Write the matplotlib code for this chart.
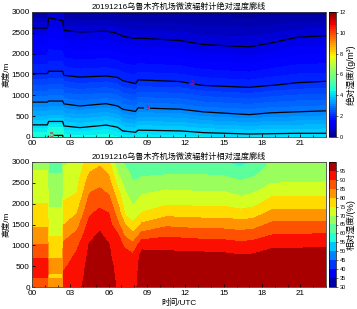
import numpy as np
import matplotlib
matplotlib.use('Agg')
import matplotlib.pyplot as plt
from matplotlib.ticker import MultipleLocator

plt.rcParams['font.family'] = ['Liberation Sans', 'Noto Sans CJK SC', 'DejaVu Sans']
plt.rcParams['axes.unicode_minus'] = False

# ---------------- absolute humidity (g/m^3) ----------------
ah_heights = [0, 100, 250, 500, 750, 1000, 1250, 1500, 1750, 2000, 2250, 2500, 2750, 3000]
ah_times = [0, 1.2, 1.3, 2.4, 2.5, 3.75, 5.8, 6.7, 7.1, 8.1, 8.3, 11.6, 13.4, 17, 18.6, 20.7, 23]
ah_t00 = [4.6, 4.39, 4.08, 3.60, 3.14, 2.74, 2.38, 2.02, 1.79, 1.57, 1.35, 1.15, 0.82, 0.3]
ah_t012 = [4.7, 4.42, 4.08, 3.60, 3.14, 2.74, 2.38, 2.02, 1.79, 1.57, 1.35, 1.15, 0.82, 0.3]
ah_t013 = [5.15, 4.77, 4.35, 3.64, 3.18, 2.78, 2.43, 2.07, 1.85, 1.67, 1.49, 1.30, 1.12, 0.85]
ah_t024 = [5.15, 4.77, 4.35, 3.64, 3.18, 2.78, 2.43, 2.07, 1.84, 1.65, 1.45, 1.25, 1.06, 0.7]
ah_t025 = [4.5, 4.31, 4.03, 3.55, 3.07, 2.68, 2.31, 1.97, 1.74, 1.51, 1.29, 1.08, 0.72, 0.3]
ah_t0375 = [4.45, 4.25, 3.95, 3.47, 2.99, 2.61, 2.24, 1.92, 1.69, 1.46, 1.24, 1.03, 0.67, 0.3]
ah_t058 = [4.5, 4.33, 4.07, 3.58, 3.08, 2.68, 2.30, 1.95, 1.72, 1.50, 1.27, 1.06, 0.69, 0.3]
ah_t067 = [4.4, 4.23, 3.97, 3.48, 2.99, 2.61, 2.23, 1.91, 1.68, 1.44, 1.21, 0.98, 0.65, 0.3]
ah_t071 = [4.3, 4.09, 3.79, 3.29, 2.85, 2.48, 2.11, 1.84, 1.61, 1.38, 1.16, 0.92, 0.61, 0.3]
ah_t081 = [4.25, 4.03, 3.71, 3.19, 2.77, 2.40, 2.03, 1.79, 1.56, 1.34, 1.11, 0.87, 0.59, 0.3]
ah_t083 = [4.3, 4.12, 3.84, 3.36, 2.91, 2.52, 2.14, 1.85, 1.61, 1.36, 1.12, 0.88, 0.59, 0.3]
ah_t116 = [4.25, 4.09, 3.80, 3.30, 2.85, 2.47, 2.09, 1.81, 1.56, 1.31, 1.06, 0.83, 0.56, 0.3]
ah_t134 = [4.2, 4.01, 3.70, 3.18, 2.74, 2.36, 1.98, 1.72, 1.47, 1.21, 0.97, 0.75, 0.52, 0.3]
ah_t170 = [4.15, 3.94, 3.61, 3.06, 2.65, 2.26, 1.92, 1.66, 1.40, 1.15, 0.92, 0.72, 0.50, 0.3]
ah_t186 = [4.15, 3.96, 3.65, 3.13, 2.72, 2.34, 1.98, 1.73, 1.49, 1.24, 1.00, 0.78, 0.53, 0.3]
ah_t207 = [4.15, 3.98, 3.67, 3.17, 2.76, 2.41, 2.05, 1.81, 1.58, 1.36, 1.13, 0.90, 0.60, 0.3]
ah_t230 = [4.15, 3.98, 3.69, 3.21, 2.80, 2.44, 2.09, 1.83, 1.61, 1.39, 1.16, 0.94, 0.62, 0.3]
ah_columns = [ah_t00, ah_t012, ah_t013, ah_t024, ah_t025, ah_t0375, ah_t058, ah_t067,
              ah_t071, ah_t081, ah_t083, ah_t116, ah_t134, ah_t170, ah_t186, ah_t207, ah_t230]

# ---------------- relative humidity (%) ----------------
rh_heights = [0, 250, 500, 750, 1000, 1250, 1500, 1750, 2000, 2250, 2500, 2750, 3000]
rh_times = [0, 1.2, 1.3, 2.4, 2.5, 3.5, 4.5, 5.3, 6.0, 6.75, 7.3, 7.9, 8.6, 10.5, 13, 15, 16.3, 17.3, 18.8, 23]
rh_t00 = [86, 90.5, 92, 89.2, 85.3, 82.1, 79.3, 77.2, 75.1, 73.5, 71.9, 70.3, 68.8]
rh_t012 = [86, 90.5, 92, 89.2, 85.3, 82.1, 79.3, 77.2, 75.1, 73.5, 71.9, 70.3, 68.8]
rh_t013 = [82, 79.5, 81.5, 79.5, 77.1, 74.75, 72.9, 71.1, 69.4, 67.9, 66.4, 64.9, 63.5]
rh_t024 = [82, 79.5, 81.5, 79.5, 77.1, 74.75, 72.9, 71.1, 69.4, 67.9, 66.4, 64.9, 63.5]
rh_t025 = [92, 91, 89.3, 87.6, 85.9, 83.4, 79.9, 77.7, 75.5, 73.8, 72.3, 70.8, 69.3]
rh_t035 = [94, 93, 92, 90.8, 88.9, 86.1, 83.1, 80, 77.5, 75, 73.6, 72.2, 70.8]
rh_t045 = [96.5, 96.5, 96.5, 96, 95.4, 93.7, 91.6, 89.5, 87.2, 85, 82.5, 80, 77.9]
rh_t053 = [97.5, 97.5, 97.3, 97, 96.3, 95.6, 93.8, 91.4, 88.9, 86.3, 83.8, 81.4, 79]
rh_t060 = [96.5, 96.5, 96.3, 95.8, 95.3, 93.4, 91.8, 90.2, 87.5, 84.6, 82, 79.4, 75.7]
rh_t0675 = [94.5, 94, 93.5, 92.3, 91, 90.1, 85.6, 82.6, 79.7, 76.6, 72.6, 69.5, 65.5]
rh_t073 = [93, 92.5, 92, 91.2, 89.4, 83.8, 79.9, 74.3, 72.2, 70.4, 68.3, 66.3, 64.2]
rh_t079 = [93, 92.5, 92, 90.8, 86.4, 81.5, 75.9, 72.3, 69.5, 67.4, 65.3, 63.5, 62]
rh_t086 = [97.5, 97.3, 97, 96.5, 93.8, 86.7, 80.8, 75.5, 72.5, 69.6, 66.5, 64, 62.5]
rh_t105 = [97.5, 97.3, 97, 96.2, 93.7, 89, 83.9, 78.7, 74.3, 71.1, 67.7, 64.2, 61.5]
rh_t130 = [98, 98, 97.5, 96.3, 92.9, 88.1, 83, 78.2, 74, 70.6, 67.4, 64.4, 61]
rh_t150 = [98, 98, 97.3, 96, 92.5, 87.8, 82.9, 78.2, 74, 70.6, 67.4, 63.8, 60.3]
rh_t163 = [98, 98, 97, 95.3, 91.7, 87, 82.3, 77.2, 72.6, 69, 65.9, 61.5, 58.5]
rh_t173 = [98, 98, 97.2, 95.6, 92.1, 87.6, 82.8, 78, 73.6, 70, 66.9, 63.3, 60.3]
rh_t188 = [98, 98, 97.7, 96.8, 94.2, 90, 86.1, 81.75, 77.6, 73.7, 69.9, 67.9, 65.8]
rh_t230 = [98, 98, 97.7, 96.8, 94.5, 90.5, 86.3, 82, 77.8, 74, 70.2, 68, 66]
rh_columns = [rh_t00, rh_t012, rh_t013, rh_t024, rh_t025, rh_t035, rh_t045, rh_t053, rh_t060,
              rh_t0675, rh_t073, rh_t079, rh_t086, rh_t105, rh_t130, rh_t150, rh_t163, rh_t173,
              rh_t188, rh_t230]

xtick_pos = [0, 3, 6, 9, 12, 15, 18, 21]
xtick_labels = ['00', '03', '06', '09', '12', '15', '18', '21']
ah_line_levels = [1, 2, 3, 4, 5]
rh_levels = list(range(30, 101, 5))
title1 = '20191216乌鲁木齐机场微波辐射计绝对湿度廓线'
title2 = '20191216乌鲁木齐机场微波辐射计相对湿度廓线'

W, H = 357, 309
fig = plt.figure(figsize=(W / 100, H / 100), dpi=100)
ax1 = fig.add_axes([32 / W, 1 - 137 / H, 294 / W, 125 / H])
cax1 = fig.add_axes([329 / W, 1 - 137 / H, 7 / W, 125 / H])
ax2 = fig.add_axes([32 / W, 1 - 287 / H, 294 / W, 125 / H])
cax2 = fig.add_axes([329 / W, 1 - 287 / H, 7 / W, 125 / H])

Zah = np.array(ah_columns).T
Zrh = np.array(rh_columns).T

fs = 5.9
# top panel
cf1 = ax1.contourf(ah_times, ah_heights, Zah, levels=np.linspace(0, 12, 61), cmap='jet', vmin=0, vmax=12)
cs1 = ax1.contour(ah_times, ah_heights, Zah, levels=ah_line_levels, colors='k', linewidths=0.9)
ax1.clabel(cs1, fmt='%d', colors='red', fontsize=5, inline=True, inline_spacing=1,
           manual=[(1.5, 40), (9.0, 680), (12.5, 1250)])
ax1.set_title(title1, fontsize=5.85, pad=2)
cb1 = fig.colorbar(cf1, cax=cax1)
cb1.set_ticks([0, 2, 4, 6, 8, 10, 12])
cb1.set_label('绝对湿度/(g/m³)', fontsize=6.3, labelpad=0.5)

# bottom panel
cf2 = ax2.contourf(rh_times, rh_heights, Zrh, levels=rh_levels, cmap='jet')
ax2.set_title(title2, fontsize=5.85, pad=2)
ax2.set_xlabel('时间/UTC', fontsize=fs, labelpad=1)
cb2 = fig.colorbar(cf2, cax=cax2)
cb2.set_ticks(list(range(30, 96, 5)))
cb2.set_label('相对湿度/(%)', fontsize=6.3, labelpad=0.5)

for ax in (ax1, ax2):
    ax.set_xlim(0, 23)
    ax.set_ylim(0, 3000)
    ax.set_xticks(xtick_pos)
    ax.set_xticklabels(xtick_labels)
    ax.xaxis.set_minor_locator(MultipleLocator(1))
    ax.set_yticks([0, 500, 1000, 1500, 2000, 2500, 3000])
    ax.tick_params(axis='both', which='both', direction='in', labelsize=fs)
    ax.tick_params(axis='y', pad=1.5)
    ax.tick_params(axis='x', pad=2.5)
    ax.tick_params(which='major', length=2.5, width=0.6)
    ax.tick_params(which='minor', length=1.5, width=0.5)
    ax.set_ylabel('高度/m', fontsize=fs, labelpad=1)
    for s in ax.spines.values():
        s.set_linewidth(0.6)
        s.set_color('#444444')

for cb in (cb1, cb2):
    cb.ax.tick_params(labelsize=4, length=1.5, width=0.4, pad=1)
    cb.outline.set_linewidth(0.5)

fig.savefig('out.png', dpi=100)
